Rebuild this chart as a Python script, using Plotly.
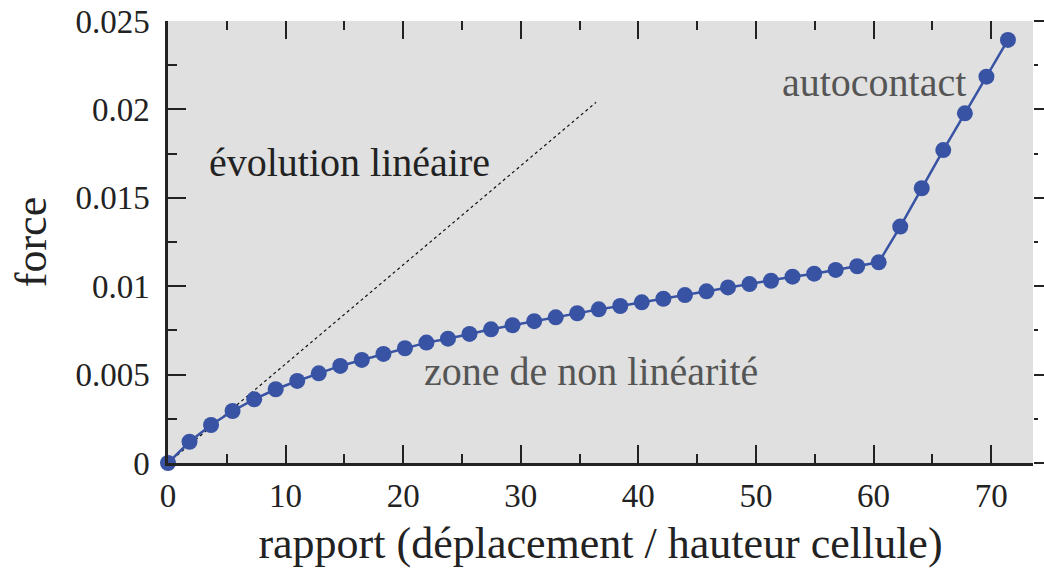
import plotly.graph_objects as go

# Data
rapport = [0, 1.83, 3.66, 5.49, 7.33, 9.16, 10.99, 12.82, 14.65, 16.48,
           18.32, 20.15, 21.98, 23.81, 25.64, 27.47, 29.30, 31.14, 32.97, 34.80,
           36.63, 38.46, 40.29, 42.13, 43.96, 45.79, 47.62, 49.45, 51.28, 53.11,
           54.95, 56.78, 58.61, 60.44, 62.27, 64.10, 65.93, 67.77, 69.60, 71.43]
force = [0, 0.00120, 0.00215, 0.00294, 0.00360, 0.00417, 0.00464, 0.00507, 0.00549, 0.00583,
         0.00617, 0.00649, 0.00681, 0.00703, 0.00730, 0.00756, 0.00779, 0.00802, 0.00824, 0.00847,
         0.00869, 0.00888, 0.00909, 0.00929, 0.00950, 0.00971, 0.00993, 0.01012, 0.01031, 0.01054,
         0.01071, 0.01092, 0.01113, 0.01135, 0.01337, 0.01554, 0.01770, 0.01978, 0.02185, 0.02393]

lin_x = [0, 36.4]
lin_y = [0, 0.0204]

labels = ["évolution linéaire", "zone de non linéarité", "autocontact"]
label_x = [15.4, 36.0, 60.0]
label_y = [0.01697, 0.00515, 0.02155]
label_colors = ["#222222", "#555555", "#555555"]

x_range = [0, 73.56]
y_range = [0, 0.025]

FONT = "Liberation Serif"
INK = "#222222"

fig = go.Figure()
fig.add_trace(go.Scatter(x=lin_x, y=lin_y, mode="lines",
                         line=dict(color="#111111", width=1.2, dash="dot"),
                         showlegend=False, hoverinfo="skip"))
fig.add_trace(go.Scatter(x=rapport, y=force, mode="lines+markers",
                         line=dict(color="#3953a4", width=2.5),
                         marker=dict(color="#3953a4", size=16),
                         showlegend=False, cliponaxis=False))

for t, xx, yy, c in zip(labels, label_x, label_y, label_colors):
    fig.add_annotation(x=xx, y=yy, text=t, showarrow=False,
                       font=dict(family=FONT, size=40, color=c),
                       xanchor="center", yanchor="middle")

fig.update_layout(
    width=1044, height=572,
    margin=dict(l=168, r=11, t=21, b=109),
    paper_bgcolor="white",
    plot_bgcolor="#e0e0e0",
    font=dict(family=FONT, color=INK),
    xaxis=dict(range=x_range, showgrid=False, zeroline=False, automargin=False,
               showline=True, linecolor=INK, linewidth=2.5,
               ticks="inside", ticklen=18, tickwidth=2, tickcolor=INK,
               dtick=10, tick0=0,
               minor=dict(ticks="inside", ticklen=9, tickwidth=2, tickcolor=INK, dtick=5),
               tickfont=dict(family=FONT, size=33, color=INK),
               ticklabelstandoff=2,
               title=dict(text="rapport (déplacement / hauteur cellule)",
                          font=dict(family=FONT, size=44, color=INK), standoff=14)),
    yaxis=dict(range=y_range, showgrid=False, zeroline=False, automargin=False,
               showline=True, linecolor=INK, linewidth=2.5,
               ticks="inside", ticklen=18, tickwidth=2, tickcolor=INK,
               dtick=0.005, tick0=0,
               minor=dict(ticks="inside", ticklen=9, tickwidth=2, tickcolor=INK, dtick=0.0025),
               tickfont=dict(family=FONT, size=33, color=INK),
               ticklabelstandoff=9,
               title=dict(text="force", font=dict(family=FONT, size=44, color=INK), standoff=16)),
    xaxis2=dict(range=x_range, overlaying="x", side="top", showgrid=False, zeroline=False,
                automargin=False, showline=False, showticklabels=False,
                ticks="inside", ticklen=18, tickwidth=2, tickcolor=INK, dtick=10, tick0=0,
                minor=dict(ticks="inside", ticklen=9, tickwidth=2, tickcolor=INK, dtick=5)),
    yaxis2=dict(range=y_range, overlaying="y", side="right", showgrid=False, zeroline=False,
                automargin=False, showline=False, showticklabels=False,
                ticks="outside", ticklen=12, tickwidth=2, tickcolor=INK, dtick=0.005, tick0=0,
                minor=dict(ticks="outside", ticklen=4, tickwidth=2, tickcolor=INK, dtick=0.0025)),
)
# invisible trace so the mirror axes render
fig.add_trace(go.Scatter(x=[None], y=[None], xaxis="x2", yaxis="y2", showlegend=False, hoverinfo="skip"))

fig.write_html("out.html", config={"displayModeBar": False},
               post_script="document.body.style.margin='0';document.body.style.overflow='hidden';")
